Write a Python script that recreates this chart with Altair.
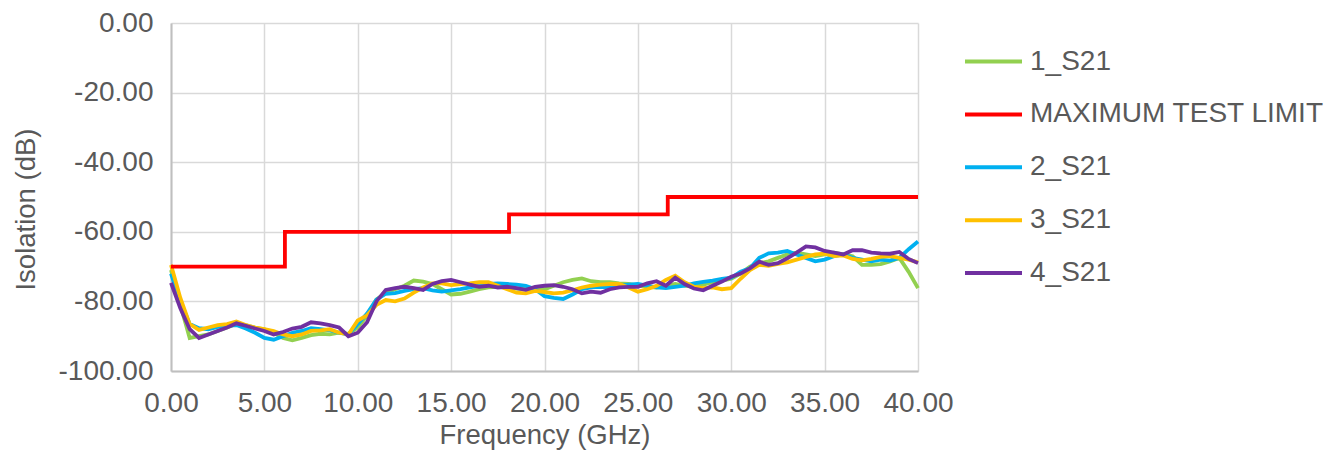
import altair as alt
import pandas as pd

freq = [0.0, 0.5, 1.0, 1.5, 2.0, 2.5, 3.0, 3.5, 4.0, 4.5, 5.0, 5.5, 6.0, 6.5, 7.0, 7.5, 8.0, 8.5, 9.0, 9.5,
        10.0, 10.5, 11.0, 11.5, 12.0, 12.5, 13.0, 13.5, 14.0, 14.5, 15.0, 15.5, 16.0, 16.5, 17.0, 17.5, 18.0, 18.5, 19.0, 19.5,
        20.0, 20.5, 21.0, 21.5, 22.0, 22.5, 23.0, 23.5, 24.0, 24.5, 25.0, 25.5, 26.0, 26.5, 27.0, 27.5, 28.0, 28.5, 29.0, 29.5,
        30.0, 30.5, 31.0, 31.5, 32.0, 32.5, 33.0, 33.5, 34.0, 34.5, 35.0, 35.5, 36.0, 36.5, 37.0, 37.5, 38.0, 38.5, 39.0, 39.5, 40.0]

s1_s21 = [-71, -81, -90.5, -90, -89.5, -88.5, -87.5, -86.5, -86.8, -87.5, -88, -89, -90.5, -91.2, -90.5, -89.7, -89.3, -89.5, -89, -89.3,
          -87.5, -84, -79.5, -77.5, -76.5, -75.5, -74, -74.3, -75, -76.5, -78, -77.8, -77.2, -76.5, -76, -75.8, -76, -76.3, -76.5, -76.3,
          -76.5, -75.5, -74.5, -73.8, -73.4, -74.2, -74.5, -74.5, -74.8, -75, -75.5, -75.8, -76, -75.5, -75, -75.5, -75.8, -75.2, -74.5, -74,
          -73.5, -72, -70, -69, -68.5, -67.5, -66.5, -66, -66.5, -67, -66.5, -66, -66.5, -67, -69.5, -69.5, -69.3, -68.5, -67.5, -71.5, -76.2]

s2_s21 = [-72, -80, -86.5, -87.7, -88, -87.3, -87, -86.8, -87.8, -89, -90.5, -91, -90, -89, -88.5, -87.7, -88, -88.3, -89, -89.5,
          -86.5, -83.5, -79.5, -77.8, -77.6, -77, -76.5, -76.2, -76.8, -77.2, -76.8, -76.5, -76, -75.5, -75, -74.8, -75, -75.2, -75.5, -76.5,
          -78.5, -79, -79.3, -78, -76.5, -76, -75.8, -76, -75.5, -75.2, -75, -75.5, -76, -76.2, -75.8, -75.5, -74.8, -74.4, -74, -73.5,
          -73.2, -71.5, -70.5, -67.5, -66.2, -66, -65.5, -66.5, -67.5, -68.5, -68, -67, -66.5, -67.5, -68, -68.5, -68, -68.3, -67.5, -65, -62.8]

s3_s21 = [-69.5, -79, -86.5, -88.2, -87.5, -86.8, -86.5, -85.8, -86.8, -87.5, -88, -88.5, -89.5, -90, -89.5, -88.5, -88.3, -88, -89, -89.5,
          -85.5, -84, -81, -79.6, -80, -79.2, -77.5, -76, -74.8, -74.8, -75.3, -75, -74.8, -74.5, -74.5, -75.5, -76.5, -77.5, -77.7, -77,
          -77.3, -77.7, -77.5, -76.8, -76, -75.5, -75.2, -75, -75, -76, -77.2, -76.5, -75.5, -73.8, -72.6, -74.5, -75.8, -76.2, -76, -76.5,
          -76.2, -73.5, -71, -69.5, -69.8, -69.2, -68.8, -68, -67.2, -66.5, -66.3, -67, -66.8, -67.8, -68.2, -67.8, -67.2, -67, -67.5, -68, -68.8]

s4_s21 = [-74.7, -82, -88, -90.5, -89.5, -88.5, -87.5, -86.3, -87, -87.8, -88.5, -89.5, -88.8, -87.8, -87.3, -86, -86.3, -86.8, -87.5, -90,
          -89, -86, -80, -76.7, -76.2, -75.8, -76.2, -76.7, -75, -74.2, -73.8, -74.5, -75.2, -75.8, -75.5, -76, -75.8, -76.2, -76.7, -75.8,
          -75.5, -75.3, -75.8, -76.5, -77.7, -77.2, -77.5, -76.5, -76, -75.8, -75.8, -74.8, -74.2, -75.5, -73.2, -75, -76.3, -76.8, -75.5, -74.3,
          -72.9, -72, -70.5, -68.6, -69.5, -69, -67.6, -66, -64.2, -64.5, -65.5, -66, -66.5, -65.3, -65.3, -66, -66.2, -66.3, -65.8, -67.8, -69]

limit_freq = [0.0, 6.1, 18.1, 26.6, 40.0]
limit_val = [-70, -60, -55, -50, -50]

x_ticks = [0, 5, 10, 15, 20, 25, 30, 35, 40]
y_ticks = [-100, -80, -60, -40, -20, 0]

series_names = ["1_S21", "MAXIMUM TEST LIMIT", "2_S21", "3_S21", "4_S21"]
series_colors = ["#92D050", "#FF0000", "#00B0F0", "#FFC000", "#7030A0"]

rows = []
for name, vals in [("1_S21", s1_s21), ("2_S21", s2_s21), ("3_S21", s3_s21), ("4_S21", s4_s21)]:
    for f, v in zip(freq, vals):
        rows.append({"freq": f, "val": v, "series": name})
df = pd.DataFrame(rows)
df_lim = pd.DataFrame({"freq": limit_freq, "val": limit_val, "series": "MAXIMUM TEST LIMIT"})

font = "Liberation Sans"
txt = "#595959"
lab_expr = "(datum.value < 0 ? '-' : '') + format(abs(datum.value), '.2f')"

color = alt.Color(
    "series:N",
    scale=alt.Scale(domain=series_names, range=series_colors),
    legend=alt.Legend(
        title=None, orient="none", legendX=792, legendY=8,
        symbolType="stroke", symbolSize=3249, symbolStrokeWidth=4,
        labelFont=font, labelFontSize=28, labelColor=txt, labelOffset=6,
        rowPadding=7.9, padding=0, labelLimit=400,
    ),
)

xenc = alt.X(
    "freq:Q",
    scale=alt.Scale(domain=[0, 40], nice=False),
    axis=alt.Axis(values=x_ticks, labelExpr=lab_expr, title="Frequency (GHz)",
                  labelPadding=18, titlePadding=4,
                  labelFlush=False, labelOverlap=False),
)
yenc = alt.Y(
    "val:Q",
    scale=alt.Scale(domain=[-100, 0], nice=False),
    axis=alt.Axis(values=y_ticks, labelExpr=lab_expr, title="Isolation (dB)",
                  labelPadding=18, titlePadding=18, titleY=186,
                  labelFlush=False, labelOverlap=False),
)

lines = alt.Chart(df).mark_line(strokeWidth=3.8).encode(x=xenc, y=yenc, color=color)
limit = alt.Chart(df_lim).mark_line(strokeWidth=3.8, interpolate="step-after").encode(x=xenc, y=yenc, color=color)

chart = alt.layer(lines, limit).properties(
    width=747, height=348,
    autosize=alt.AutoSizeParams(type="none"),
    padding={"left": 163, "top": 15, "right": 412, "bottom": 88},
).configure_view(strokeWidth=0).configure_axis(
    labelFont=font, labelFontSize=28, labelColor=txt,
    titleFont=font, titleFontSize=27.5, titleColor=txt, titleFontWeight="normal",
    ticks=False, grid=True, gridColor="#D9D9D9", gridWidth=1.5,
    domainColor="#BFBFBF", domainWidth=2,
)

chart.save("out.html", embed_options={"renderer": "svg", "actions": False})
